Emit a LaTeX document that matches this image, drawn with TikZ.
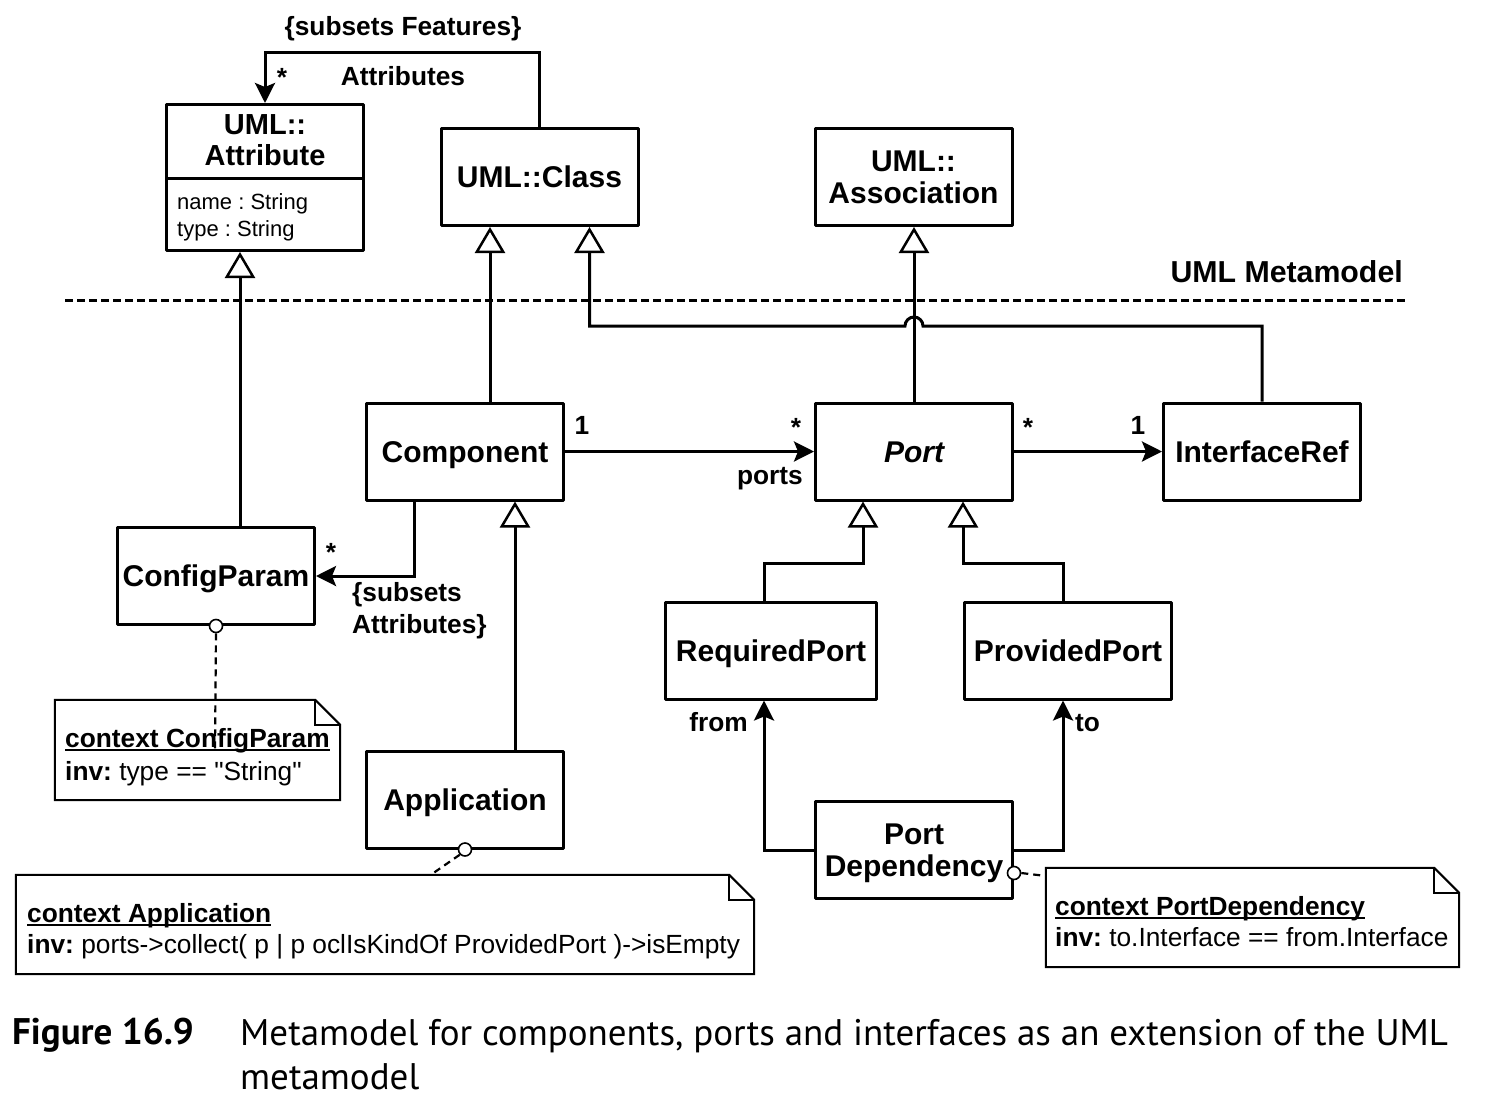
\documentclass[tikz,border=0pt]{standalone}
\usepackage{fontspec}
\setmainfont{Liberation Sans}
\newfontfamily\notefont{Liberation Sans}
\newfontfamily\capfont{PT Sans}
\usetikzlibrary{arrows.meta,calc}
\newcommand\myul[1]{\setbox0\hbox{#1}\rlap{\rule[-3.5pt]{\wd0}{2pt}}\box0}
\begin{document}
\frenchspacing
\begin{tikzpicture}[x=1pt,y=-1pt,
  box/.style={draw,line width=3pt,minimum width=197pt,minimum height=97pt,inner sep=0pt,align=center,
    font=\bfseries\fontsize{30}{32}\selectfont,line join=round},
  one/.style={text height=27pt,text depth=6pt},
  gen/.style={line width=3pt,-{Triangle[open,length=26pt,width=30pt,line width=2.5pt]}},
  arr/.style={line width=3pt,-{Stealth[length=20pt,width=20pt,inset=4pt]}},
  lab/.style={font=\bfseries\fontsize{26.3}{30}\selectfont,inner sep=0pt},
  attrtxt/.style={font=\notefont\fontsize{22}{27}\selectfont,inner sep=0pt,anchor=base west},
  notetxt/.style={font=\notefont\fontsize{26.3}{31}\selectfont,inner sep=0pt,anchor=base west},
  notebox/.style={draw=none,inner sep=0pt},
  noteline/.style={line width=2pt,line join=miter},
  anchorcirc/.style={circle,draw,fill=white,line width=1.6pt,minimum size=13pt,inner sep=0pt},
  notedash/.style={line width=2.2pt,dash pattern=on 7pt off 5pt},
  captxt/.style={anchor=base west,inner sep=0pt,font=\capfont\fontsize{37}{44}\selectfont},
]
\useasboundingbox (0,0) rectangle (1486,1112);

% ---------- classes ----------
\node[box,minimum height=146pt] (attr) at (265,177.5) {};
\node[font=\bfseries\fontsize{29}{31}\selectfont,align=center,inner sep=0pt] (attrT) at (265,140) {UML::\\Attribute};
\coordinate (sepA) at (165,178);
\coordinate (sepB) at (365,178);
\draw[line width=3pt] (sepA) -- (sepB);
\node[attrtxt] (attrF1) at (177,209) {name : String};
\node[attrtxt] (attrF2) at (177,236) {type : String};

\node[box,one] (cls) at (539.5,177) {UML::Class};
\node[box] (asc) at (913.5,177) {UML::\\Association};
\node[box,one] (comp) at (465,451.5) {Component};
\node[box,one] (port) at (914,451.5) {\itshape Port};
\node[box,one] (iref) at (1262,451.5) {InterfaceRef};
\node[box,one] (cfg) at (216,576) {ConfigParam};
\node[box,one,minimum width=211pt] (rp) at (771,650.5) {RequiredPort};
\node[box,one,minimum width=207pt] (pp) at (1068,650.5) {ProvidedPort};
\node[box,one] (app) at (465,799.5) {Application};
\node[box,text depth=0pt] (pd) at (914,850) {Port\\Dependency};

% ---------- metamodel separator ----------
\coordinate (sepL) at (65,300);
\coordinate (sepR) at (1405,300);
\draw[line width=3pt,dash pattern=on 8pt off 4pt] (sepL) -- (sepR);
\node[font=\bfseries\fontsize{30.3}{32}\selectfont,inner sep=0pt,anchor=base east] (mmlab) at (1403,282) {UML Metamodel};

% ---------- Attributes association ----------
\draw[arr] (cls.north) -- ++(0,-75) -| (attr.north);
\node[lab,anchor=base] (subF) at (403,35) {\{subsets Features\}};
\node[lab,anchor=base] (attrStar) at (282,86) {*};
\node[lab,anchor=base] (attrLab) at (403,85) {Attributes};

% ---------- generalizations ----------
\draw[gen] ([xshift=24pt]cfg.north) -- ([xshift=24pt]cfg.north |- attr.south);
\draw[gen] ([xshift=25pt]comp.north) -- ([xshift=25pt]comp.north |- cls.south);
\draw[gen] (port.north) -- (port.north |- asc.south);
\coordinate (lvl) at (0,326);
\draw[gen] (iref.north) |- ([xshift=9pt]port.north |- lvl)
   arc[start angle=0,end angle=180,radius=9pt]
   -- ([xshift=50pt]cls.south |- lvl) -- ([xshift=50pt]cls.south);
\draw[gen] ([xshift=50pt]app.north) -- ([xshift=50pt]app.north |- comp.south);
\coordinate (gm) at (0,563);
\draw[gen] ([xshift=-7pt]rp.north) -- ([xshift=-7pt]rp.north |- gm) -| ([xshift=-51pt]port.south);
\draw[gen] ([xshift=-5pt]pp.north) -- ([xshift=-5pt]pp.north |- gm) -| ([xshift=49pt]port.south);

% ---------- associations ----------
\draw[arr] (comp.east) -- (port.west);
\node[lab,anchor=base] (c1) at (582,434) {1};
\node[lab,anchor=base] (cs) at (796,436) {*};
\node[lab,anchor=base east] (portsLab) at (803,484) {ports};

\draw[arr] (port.east) -- (iref.west);
\node[lab,anchor=base] (ps) at (1028,436) {*};
\node[lab,anchor=base] (i1) at (1138,434) {1};

\draw[arr] ([xshift=-51pt]comp.south) |- (cfg.east);
\node[lab,anchor=base] (cfgStar) at (331,561) {*};
\node[lab,anchor=base west] (subA1) at (352,601) {\{subsets};
\node[lab,anchor=base west] (subA2) at (352,633) {Attributes\}};

\draw[arr] (pd.west) -| ([xshift=-7pt]rp.south);
\draw[arr] (pd.east) -| ([xshift=-5pt]pp.south);
\node[lab,anchor=base east] (fromLab) at (748,731) {from};
\node[lab,anchor=base west] (toLab) at (1075,731) {to};

% ---------- notes ----------
\node[notebox,minimum width=285pt,minimum height=100pt] (n1) at (197.5,750) {};
\draw[noteline] (n1.north west) -- ([xshift=-25pt]n1.north east) -- ([yshift=-25pt]n1.north east)
   -- (n1.south east) -- (n1.south west) -- cycle;
\draw[noteline] ([xshift=-25pt]n1.north east) |- ([yshift=-25pt]n1.north east);
\node[notetxt] (n1a) at (65,747) {\myul{\bfseries context ConfigParam}};
\node[notetxt] (n1b) at (65,780) {\textbf{inv:} type == "String"};
\node[anchorcirc] (k1) at (cfg.south) {};
\coordinate (k1end) at (215,750);
\draw[notedash] (k1.south) -- (k1end);

\node[notebox,minimum width=738pt,minimum height=99pt] (n2) at (385,924.5) {};
\draw[noteline] (n2.north west) -- ([xshift=-25pt]n2.north east) -- ([yshift=-25pt]n2.north east)
   -- (n2.south east) -- (n2.south west) -- cycle;
\draw[noteline] ([xshift=-25pt]n2.north east) |- ([yshift=-25pt]n2.north east);
\node[notetxt] (n2a) at (27,922) {\myul{\bfseries context Application}};
\node[notetxt] (n2b) at (27,953) {\textbf{inv:} ports->collect( p | p oclIsKindOf ProvidedPort )->isEmpty};
\node[anchorcirc] (k2) at (app.south) {};
\coordinate (k2end) at (432,874);
\draw[notedash] (k2.south west) -- (k2end);

\node[notebox,minimum width=413pt,minimum height=99pt] (n3) at (1252.5,917.5) {};
\draw[noteline] (n3.north west) -- ([xshift=-25pt]n3.north east) -- ([yshift=-25pt]n3.north east)
   -- (n3.south east) -- (n3.south west) -- cycle;
\draw[noteline] ([xshift=-25pt]n3.north east) |- ([yshift=-25pt]n3.north east);
\node[notetxt] (n3a) at (1055,915) {\myul{\bfseries context PortDependency}};
\node[notetxt] (n3b) at (1055,946) {\textbf{inv:} to.Interface == from.Interface};
\node[anchorcirc] (k3) at ([yshift=-23pt]pd.east) {};
\coordinate (k3end) at (1046,876);
\draw[notedash] (k3.east) -- (k3end);

% ---------- caption ----------
\node[captxt,font=\capfont\bfseries\fontsize{37}{44}\selectfont] (figlab) at (12,1044) {Figure 16.9};
\node[captxt] (cap1) at (240,1045) {Metamodel for components, ports and interfaces as an extension of the UML};
\node[captxt] (cap2) at (240,1089) {metamodel};
\end{tikzpicture}
\end{document}
